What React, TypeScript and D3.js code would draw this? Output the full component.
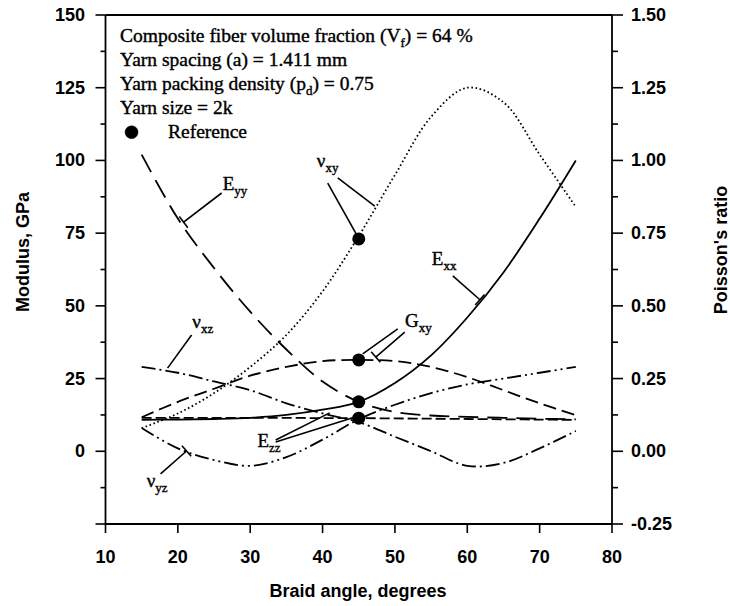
import React from "react";
import * as d3 from "d3";

// ---------- data ----------
const angles = [15, 20, 25, 30, 35, 40, 45, 50, 55, 60, 65, 70, 75];
const Exx = [10.8, 10.9, 11.1, 11.5, 12.5, 14.3, 17, 23.5, 33, 46, 61.5, 80, 100];
const Eyy = [102, 80, 63, 48, 35, 24, 17, 13.5, 12.3, 11.8, 11.5, 11.2, 11.0];
const Gxy = [11.7, 17, 21.5, 26, 29, 31, 31.4, 31, 29, 25.5, 21, 16.5, 12.4];
const Ezz = [11.5, 11.5, 11.5, 11.5, 11.5, 11.4, 11.4, 11.3, 11.2, 11.1, 11.0, 10.9, 10.8];
const nuXY = [0.08, 0.13, 0.2, 0.29, 0.4, 0.55, 0.74, 0.95, 1.15, 1.25, 1.2, 1.02, 0.84];
const nuXZ = [0.29, 0.27, 0.24, 0.21, 0.165, 0.13, 0.1, 0.05, 0.0, -0.05, -0.04, 0.01, 0.07];
const nuYZ = [0.08, 0.01, -0.03, -0.05, -0.02, 0.04, 0.11, 0.16, 0.2, 0.23, 0.25, 0.27, 0.29];

const refAngle = 45;
const refModulus = [73, 31.4, 17, 11.4];

const xTicks = [10, 20, 30, 40, 50, 60, 70, 80];
const leftTicks = [-25, 0, 25, 50, 75, 100, 125, 150];
const leftLabels = [0, 25, 50, 75, 100, 125, 150];
const rightTicks = [-0.25, 0, 0.25, 0.5, 0.75, 1.0, 1.25, 1.5];

const infoLines = [
  ["Composite fiber volume fraction (V", "f", ") = 64 %"],
  ["Yarn spacing (a) = 1.411 mm", "", ""],
  ["Yarn packing density (p", "d", ") = 0.75"],
  ["Yarn size = 2k", "", ""],
];

// curve labels (data units: angle, modulus)
const curveLabels = [
  { main: "E", sub: "yy", x: 26.2, y: 89.8 },
  { main: "ν", sub: "xy", x: 39.2, y: 97.7 },
  { main: "E", sub: "xx", x: 55.1, y: 64.1 },
  { main: "G", sub: "xy", x: 51.4, y: 42.7 },
  { main: "E", sub: "zz", x: 31.0, y: 1.5 },
  { main: "ν", sub: "xz", x: 22.0, y: 42.4 },
  { main: "ν", sub: "yz", x: 15.7, y: -12.3 },
];
// leaders: [x1, y1, x2, y2, endTick]
const leaders: [number, number, number, number, boolean][] = [
  [26.05, 88.8, 20.79, 78.8, true],
  [40.71, 92.2, 44.72, 74.4, false],
  [42.1, 94.0, 47.21, 84.3, false],
  [58.0, 60.3, 61.74, 52.1, true],
  [50.39, 42.1, 45.55, 33.5, false],
  [51.36, 41.0, 47.35, 32.4, true],
  [33.52, 3.9, 40.99, 13.2, false],
  [33.52, 3.2, 44.17, 11.5, false],
  [21.9, 40.0, 18.58, 28.6, false],
  [17.61, -7.8, 21.2, 0.1, true],
];

export default function App() {
  const W = 730, H = 606;
  const L = 105.5, R = 612, T = 15, B = 524;
  const x = d3.scaleLinear().domain([10, 80]).range([L, R]);
  const yL = d3.scaleLinear().domain([-25, 150]).range([B, T]);
  const yR = d3.scaleLinear().domain([-0.25, 1.5]).range([B, T]);

  const curve = d3.curveCatmullRom.alpha(0.5);
  const lineL = (vals: number[]) =>
    d3.line<number>().x((_, i) => x(angles[i])).y((v) => yL(v)).curve(curve)(vals) || "";
  const lineR = (vals: number[]) =>
    d3.line<number>().x((_, i) => x(angles[i])).y((v) => yR(v)).curve(curve)(vals) || "";

  const sans = "'Liberation Sans', Arial, sans-serif";
  const serif = "'Liberation Serif', 'Times New Roman', serif";
  const sw = 1.8;

  const minorL = d3.range(-12.5, 150, 25);
  const minorR = d3.range(-0.125, 1.5, 0.25);

  return (
    <svg width={W} height={H} style={{ position: "absolute", left: 0, top: 0, background: "#fff" }}>
      <rect x={0} y={0} width={W} height={H} fill="#fff" />
      {/* frame */}
      <g stroke="#000" strokeWidth={1.8} fill="none">
        <line x1={L} y1={T} x2={R} y2={T} />
        <line x1={L} y1={T} x2={L} y2={B} />
        <line x1={R} y1={T} x2={R} y2={B} />
        <line x1={L} y1={B} x2={R} y2={B} />
      </g>
      {/* axes ticks */}
      <g stroke="#000" strokeWidth={1.6}>
        {leftTicks.map((t) => (
          <line key={"lt" + t} x1={L - 10} x2={L} y1={yL(t)} y2={yL(t)} />
        ))}
        {minorL.map((t) => (
          <line key={"lm" + t} x1={L - 5} x2={L} y1={yL(t)} y2={yL(t)} />
        ))}
        {rightTicks.map((t) => (
          <line key={"rt" + t} x1={R} x2={R + 11} y1={yR(t)} y2={yR(t)} />
        ))}
        {minorR.map((t) => (
          <line key={"rm" + t} x1={R} x2={R + 6} y1={yR(t)} y2={yR(t)} />
        ))}
        {xTicks.map((t) => (
          <line key={"xt" + t} x1={x(t)} x2={x(t)} y1={B} y2={B + 9} />
        ))}
      </g>
      <g fontFamily={sans} fontWeight="bold" fontSize={18} fill="#000">
        {leftLabels.map((t) => (
          <text key={"ll" + t} x={85} y={yL(t)} textAnchor="end" dominantBaseline="central">
            {t}
          </text>
        ))}
        {rightTicks.map((t) => (
          <text key={"rl" + t} x={631} y={yR(t)} textAnchor="start" dominantBaseline="central">
            {t < 0 ? "-" + Math.abs(t).toFixed(2) : t.toFixed(2)}
          </text>
        ))}
        {xTicks.map((t) => (
          <text key={"xl" + t} x={x(t)} y={563} textAnchor="middle">
            {t}
          </text>
        ))}
        <text x={358} y={597} textAnchor="middle">Braid angle, degrees</text>
        <text transform={`translate(29,252) rotate(-90)`} textAnchor="middle">Modulus, GPa</text>
        <text transform={`translate(727,250) rotate(-90)`} textAnchor="middle">Poisson's ratio</text>
      </g>

      {/* curves */}
      <g fill="none" stroke="#000" strokeWidth={sw}>
        <path d={lineL(Ezz)} strokeDasharray="10,4" />
        <path d={lineL(Exx)} />
        <path d={lineL(Eyy)} strokeDasharray="20,9" />
        <path d={lineL(Gxy)} strokeDasharray="13,6" />
        <path d={lineR(nuXY)} strokeDasharray="1.6,2.6" />
        <path d={lineR(nuXZ)} strokeDasharray="14,4,2,4" />
        <path d={lineR(nuYZ)} strokeDasharray="14,4,2,4,2,4" />
      </g>

      {/* reference points */}
      {refModulus.map((m, i) => (
        <circle key={"rp" + i} cx={x(refAngle)} cy={yL(m)} r={6.5} fill="#000" />
      ))}

      {/* leaders */}
      <g stroke="#000" strokeWidth={1.6}>
        {leaders.map(([a1, m1, a2, m2, tick], i) => {
          const px1 = x(a1), py1 = yL(m1), px2 = x(a2), py2 = yL(m2);
          const dx = px2 - px1, dy = py2 - py1;
          const len = Math.hypot(dx, dy);
          const nx = -dy / len, ny = dx / len;
          return (
            <g key={"ld" + i}>
              <line x1={px1} y1={py1} x2={px2} y2={py2} />
              {tick && (
                <line x1={px2 - nx * 7} y1={py2 - ny * 7} x2={px2 + nx * 7} y2={py2 + ny * 7} />
              )}
            </g>
          );
        })}
      </g>

      {/* curve labels */}
      <g fontFamily={serif} fill="#000" stroke="#000" strokeWidth={0.4}>
        {curveLabels.map((c, i) => (
          <text key={"cl" + i} x={x(c.x)} y={yL(c.y)} fontSize={19}>
            {c.main}
            <tspan fontSize={13} dy={5}>{c.sub}</tspan>
          </text>
        ))}
      </g>

      {/* info text */}
      <g fontFamily={serif} fontSize={19.5} fill="#000" stroke="#000" strokeWidth={0.4}>
        {infoLines.map((ln, i) => (
          <text key={"il" + i} x={120} y={42 + i * 24}>
            {ln[0]}
            {ln[1] && (
              <tspan fontSize={13} dy={5}>{ln[1]}</tspan>
            )}
            {ln[2] && <tspan dy={ln[1] ? -5 : 0}>{ln[2]}</tspan>}
          </text>
        ))}
        <circle cx={x(13.6)} cy={yL(109.7)} r={6.5} fill="#000" />
        <text x={168} y={138}>Reference</text>
      </g>
    </svg>
  );
}
